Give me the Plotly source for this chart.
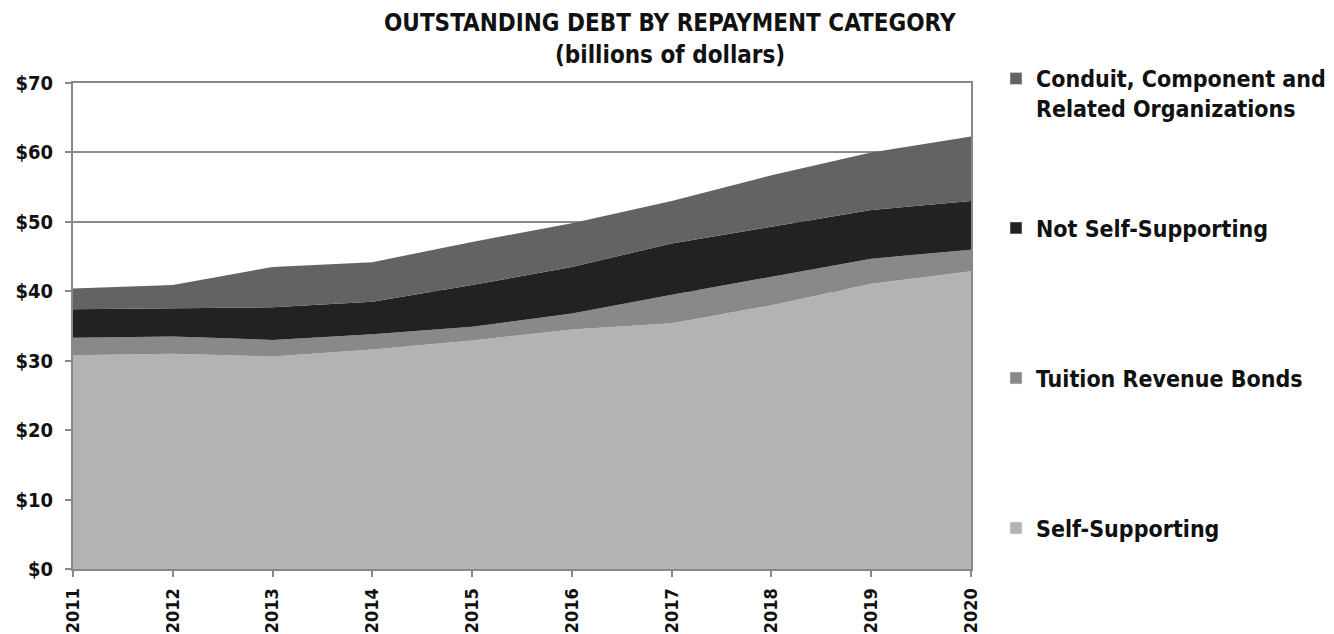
import plotly.graph_objects as go

years = [2011, 2012, 2013, 2014, 2015, 2016, 2017, 2018, 2019, 2020]

# Outstanding debt by repayment category, billions of dollars
self_supporting = [30.8, 31.0, 30.6, 31.6, 32.9, 34.5, 35.4, 38.0, 41.1, 42.9]
tuition_revenue = [2.5, 2.5, 2.4, 2.2, 2.0, 2.3, 4.1, 4.1, 3.6, 3.1]
not_self_supporting = [4.1, 4.0, 4.7, 4.7, 6.0, 6.7, 7.4, 7.2, 7.0, 7.0]
conduit_related = [3.0, 3.4, 5.8, 5.7, 6.2, 6.3, 6.1, 7.4, 8.3, 9.3]

series = [
    ("Self-Supporting", self_supporting, "#b3b3b3", "legend4", 528),
    ("Tuition Revenue Bonds", tuition_revenue, "#898989", "legend3", 378),
    ("Not Self-Supporting", not_self_supporting, "#222222", "legend2", 228),
    ("Conduit, Component and<br>Related Organizations", conduit_related, "#636363", "legend", 93.5),
]

FONT = "DejaVu Sans Condensed"
W, H = 1334, 634
ML, MR, MT, MB = 73, 363, 83, 65
PW, PH = W - ML - MR, H - MT - MB


def px_x(px):
    return (px - ML) / PW


def px_y(py):
    return (H - MB - py) / PH


fig = go.Figure()

for name, vals, color, _, _ in series:
    fig.add_trace(go.Scatter(
        x=years, y=vals, name=name, stackgroup="debt", mode="lines",
        line=dict(width=0, color=color), fillcolor=color,
        showlegend=False, hoverinfo="x+y+name",
    ))

# square swatches for the legend entries
for name, vals, color, leg, _ in series:
    fig.add_trace(go.Bar(
        x=[None], y=[None], name=name, marker=dict(color=color),
        legend=leg, showlegend=True,
    ))

legend_font = dict(family=FONT, size=23, color="#111111", weight="bold")
legends = {}
for name, vals, color, leg, ypx in series:
    legends[leg] = dict(
        xref="container", yref="container",
        x=996 / W, y=1 - ypx / H, xanchor="left", yanchor="middle", valign="top",
        font=legend_font, bgcolor="rgba(0,0,0,0)",
    )

fig.update_layout(
    width=W, height=H,
    margin=dict(l=ML, r=MR, t=MT, b=MB, autoexpand=False),
    paper_bgcolor="white", plot_bgcolor="white",
    font=dict(family=FONT, color="#111111", weight="bold"),
    xaxis=dict(
        range=[2011, 2020], tickvals=years, ticktext=[str(y) for y in years],
        tickangle=-90, ticks="outside", ticklen=6, tickwidth=2, tickcolor="#888888",
        ticklabelstandoff=4,
        showline=True, linecolor="#888888", linewidth=2, mirror=True,
        showgrid=False, zeroline=False, automargin=False,
        tickfont=dict(family=FONT, size=18, color="#111111", weight="bold"),
    ),
    yaxis=dict(
        range=[0, 70], dtick=10, tickprefix="$",
        ticks="outside", ticklen=6, tickwidth=2, tickcolor="#888888",
        ticklabelstandoff=8,
        showline=True, linecolor="#888888", linewidth=2, mirror=True,
        showgrid=True, gridcolor="#8c8c8c", gridwidth=2, zeroline=False,
        automargin=False,
        tickfont=dict(family=FONT, size=20, color="#111111", weight="bold"),
    ),
    annotations=[
        dict(text="OUTSTANDING DEBT BY REPAYMENT CATEGORY", xref="paper", yref="paper",
             x=px_x(670), y=px_y(23), showarrow=False,
             xanchor="center", yanchor="middle",
             font=dict(family=FONT, size=24, color="#111111", weight="bold")),
        dict(text="(billions of dollars)", xref="paper", yref="paper",
             x=px_x(670), y=px_y(55), showarrow=False,
             xanchor="center", yanchor="middle",
             font=dict(family=FONT, size=24, color="#111111", weight="bold")),
    ],
    **legends,
)

fig.write_html("out.html")
